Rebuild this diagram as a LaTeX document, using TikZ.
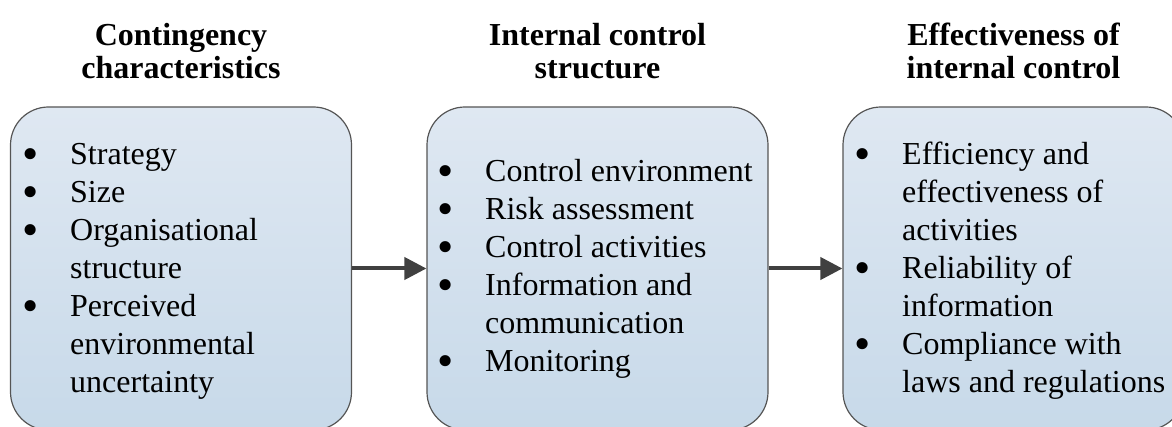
\documentclass[tikz,border=0pt]{standalone}
\usepackage{fontspec}
\setmainfont{Liberation Serif}
\usepackage{array}
\usepackage{graphicx}
\usetikzlibrary{arrows.meta}
\definecolor{boxtop}{RGB}{223,232,242}
\definecolor{boxbottom}{RGB}{199,217,233}
\definecolor{boxline}{RGB}{85,85,85}
\definecolor{arrowgray}{RGB}{64,64,64}
% enlarged bullet, centred on the start of its column
\newcommand\blt{\makebox[0pt]{\smash{\raisebox{-5pt}{\scalebox{1.45}{\textbullet}}}}}
\begin{document}
\begin{tikzpicture}[x=1pt,y=-1pt,
  panel/.style={draw=boxline, line width=1.2pt, rounded corners=38pt,
    top color=boxtop, bottom color=boxbottom,
    minimum width=341pt, minimum height=323pt, inner sep=0pt},
  heading/.style={font=\fontsize{32}{33}\selectfont\bfseries, anchor=base, inner sep=0pt},
  items/.style={font=\fontsize{32}{38}\selectfont, anchor=base west, inner sep=0pt},
  flow/.style={draw=arrowgray, line width=4pt, -{Triangle[length=22pt,width=22pt]}}]
\useasboundingbox (0,0) rectangle (1172,427);
\clip (0,0) rectangle (1172,427);

% three stages
\node[panel] (b1) at (181,268.5) {};
\node[panel] (b2) at (597.5,268.5) {};
\node[panel] (b3) at (1013.5,268.5) {};

% headings
\node[heading] (h1) at (181,46) {\begin{tabular}[t]{@{}c@{}}Contingency\\characteristics\end{tabular}};
\node[heading] (h2) at (597.5,46) {\begin{tabular}[t]{@{}c@{}}Internal control\\structure\end{tabular}};
\node[heading] (h3) at (1013.5,46) {\begin{tabular}[t]{@{}c@{}}Effectiveness of\\internal control\end{tabular}};

% bullet lists
\node[items] (t1) at (30,165) {\begin{tabular}[t]{@{}p{40pt}@{}l@{}}
\blt & Strategy\\
\blt & Size\\
\blt & Organisational\\
     & structure\\
\blt & Perceived\\
     & environmental\\
     & uncertainty
\end{tabular}};
\node[items] (t2) at (445,181.7) {\begin{tabular}[t]{@{}p{40pt}@{}l@{}}
\blt & Control environment\\
\blt & Risk assessment\\
\blt & Control activities\\
\blt & Information and\\
     & communication\\
\blt & Monitoring
\end{tabular}};
\node[items] (t3) at (862,165) {\begin{tabular}[t]{@{}p{40pt}@{}l@{}}
\blt & Efficiency and\\
     & effectiveness of\\
     & activities\\
\blt & Reliability of\\
     & information\\
\blt & Compliance with\\
     & laws and regulations
\end{tabular}};

% connectors
\draw[flow] (b1) -- (b2);
\draw[flow] (b2) -- (b3);
\end{tikzpicture}
\end{document}
